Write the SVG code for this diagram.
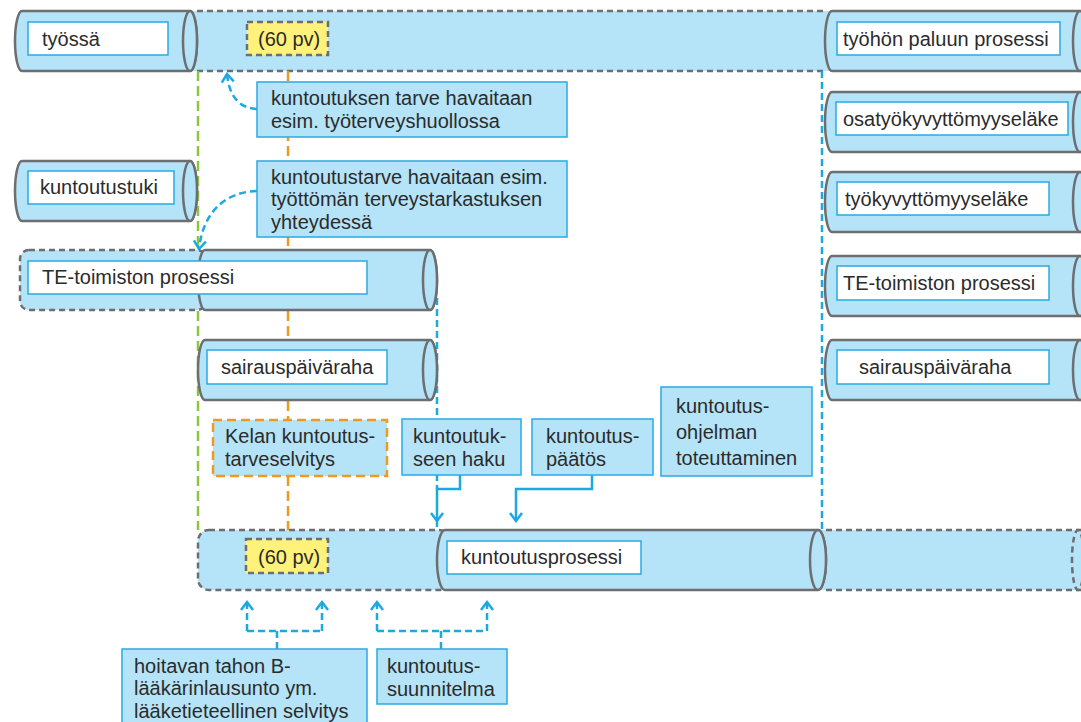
<svg xmlns="http://www.w3.org/2000/svg" width="1081" height="722" viewBox="0 0 1081 722">
<defs>
<style>
.cyl{fill:#b5e3f7;stroke:#6d6e71;stroke-width:2.5}
.dsh{fill:#b5e3f7;stroke:#6d6e71;stroke-width:2.5;stroke-dasharray:6 4}
.dl{fill:none;stroke:#6d6e71;stroke-width:2.5;stroke-dasharray:6 4}
.fillb{fill:#b5e3f7;stroke:none}
.inner{fill:#ffffff;stroke:#29abe2;stroke-width:1.5}
.box{fill:#b5e3f7;stroke:#29abe2;stroke-width:1.5}
.obox{fill:#b5e3f7;stroke:#ee9a22;stroke-width:2.5;stroke-dasharray:9 5}
.ybox{fill:#fff27a;stroke:#6d6e71;stroke-width:2.5;stroke-dasharray:6 4}
text{font-family:"Liberation Sans","Open Sans",sans-serif;font-size:20px;fill:#2b2b2b}
.bd{fill:none;stroke:#1ba9e1;stroke-width:2.5;stroke-dasharray:7 4}
.bs{fill:none;stroke:#1ba9e1;stroke-width:2.5}
.gd{fill:none;stroke:#8cc63f;stroke-width:2.5;stroke-dasharray:10 5}
.od{fill:none;stroke:#ee9a22;stroke-width:2.5;stroke-dasharray:10 5}
</style>
<marker id="ah" markerWidth="16" markerHeight="16" refX="12" refY="8" orient="auto" markerUnits="userSpaceOnUse">
<path d="M4,2 L12,8 L4,14" fill="none" stroke="#1ba9e1" stroke-width="2.5"/>
</marker>
</defs>

<!-- background bands -->
<g id="band-top">
<rect class="fillb" x="190" y="11" width="642" height="60"/>
<path class="dl" d="M197,11 H826 M197,71 H826"/>
</g>
<g id="band-bottom-right">
<rect class="fillb" x="818" y="530" width="263" height="60"/>
<path class="dl" d="M826,530 H1081 M826,590 H1081"/>
<ellipse cx="1078" cy="560" rx="6" ry="30" fill="none" stroke="#6d6e71" stroke-width="2.5" stroke-dasharray="6 4"/>
</g>

<g id="connectors">
<path class="gd" d="M198,71 V530"/>
<path class="od" d="M288,71 V530"/>
<path class="bd" d="M822,71 V530"/>
<path class="bd" d="M437,298 V489"/>
<path class="bd" d="M437,520 V530"/>
<path class="bs" d="M460,475 V489 H437 V521" marker-end="url(#ah)"/>
<path class="bs" d="M592,475 V489 H516 V521" marker-end="url(#ah)"/>
<path class="bd" d="M257,109 C238,108 229,95 227,74" marker-end="url(#ah)"/>
<path class="bd" d="M257,191 C224,192 203,213 199,249" marker-end="url(#ah)"/>
<path class="bd" d="M277,649 V631 M247,631 H322 M247,631 V602" marker-end="url(#ah)"/>
<path class="bd" d="M322,631 V602" marker-end="url(#ah)"/>
<path class="bd" d="M441,649 V631 M377,631 H487 M377,631 V602" marker-end="url(#ah)"/>
<path class="bd" d="M487,631 V602" marker-end="url(#ah)"/>
</g>

<g id="tyossa">
<path class="cyl" d="M22,11 H190 A7,30 0 0 1 190,71 H22 A7,30 0 0 1 22,11 Z"/>
<ellipse class="cyl" cx="190" cy="41" rx="7" ry="30"/>
<rect class="inner" x="28" y="22" width="140" height="33"/>
<text x="42" y="46">työssä</text>
</g>
<g id="pv-top">
<rect class="ybox" x="247" y="22" width="81" height="33"/>
<text x="258" y="46">(60 pv)</text>
</g>
<g id="kuntoutustuki">
<path class="cyl" d="M22,161 H190 A7,30 0 0 1 190,221 H22 A7,30 0 0 1 22,161 Z"/>
<ellipse class="cyl" cx="190" cy="191" rx="7" ry="30"/>
<rect class="inner" x="28" y="171" width="146" height="33"/>
<text x="40" y="194">kuntoutustuki</text>
</g>
<g id="te-left">
<rect class="dsh" x="20" y="250" width="186" height="60" rx="9"/>
<path class="cyl" d="M205,250 H430 A7,30 0 0 1 430,310 H205 A7,30 0 0 1 205,250 Z"/>
<ellipse class="cyl" cx="430" cy="280" rx="7" ry="30"/>
<rect class="inner" x="28" y="261" width="339" height="33"/>
<text x="42" y="284">TE-toimiston prosessi</text>
</g>
<g id="sairaus-left">
<path class="cyl" d="M205,340 H430 A7,30 0 0 1 430,400 H205 A7,30 0 0 1 205,340 Z"/>
<ellipse class="cyl" cx="430" cy="370" rx="7" ry="30"/>
<rect class="inner" x="207" y="350" width="180" height="34"/>
<text x="221" y="374">sairauspäiväraha</text>
</g>
<g id="tarve1">
<rect class="box" x="257" y="82" width="310" height="55"/>
<text x="271" y="105">kuntoutuksen tarve havaitaan</text>
<text x="271" y="127.5">esim. työterveyshuollossa</text>
</g>
<g id="tarve2">
<rect class="box" x="257" y="161" width="310" height="76"/>
<text x="271" y="183.5">kuntoutustarve havaitaan esim.</text>
<text x="271" y="206">työttömän terveystarkastuksen</text>
<text x="271" y="228.5">yhteydessä</text>
</g>
<g id="kelan">
<rect class="obox" x="213" y="420" width="174" height="56"/>
<text x="225" y="443">Kelan kuntoutus-</text>
<text x="225" y="465.5">tarveselvitys</text>
</g>
<g id="haku">
<rect class="box" x="402" y="419" width="119" height="56"/>
<text x="413" y="443">kuntoutuk-</text>
<text x="413" y="465.5">seen haku</text>
</g>
<g id="paatos">
<rect class="box" x="532" y="419" width="121" height="56"/>
<text x="546" y="443">kuntoutus-</text>
<text x="546" y="465.5">päätös</text>
</g>
<g id="ohjelma">
<rect class="box" x="661" y="387" width="151" height="89"/>
<text x="676" y="413">kuntoutus-</text>
<text x="676" y="439">ohjelman</text>
<text x="676" y="465">toteuttaminen</text>
</g>
<g id="bottom-left">
<rect class="dsh" x="198" y="530" width="252" height="60" rx="11"/>
<rect class="ybox" x="246" y="539" width="82" height="34"/>
<text x="258" y="564">(60 pv)</text>
</g>
<g id="kuntoutusprosessi">
<path class="cyl" d="M445,530 H818 A8,30 0 0 1 818,590 H445 A8,30 0 0 1 445,530 Z"/>
<ellipse class="cyl" cx="818" cy="560" rx="8" ry="30"/>
<rect class="inner" x="447" y="541" width="194" height="33"/>
<text x="461" y="564">kuntoutusprosessi</text>
</g>
<g id="r1">
<path class="cyl" d="M832,11 H1080 A7,30 0 0 1 1080,71 H832 A7,30 0 0 1 832,11 Z"/>
<ellipse class="cyl" cx="1080" cy="41" rx="7" ry="30"/>
<rect class="inner" x="837" y="22" width="223" height="33"/>
<text x="843" y="46">työhön paluun prosessi</text>
</g>
<g id="r2">
<path class="cyl" d="M832,92 H1080 A7,30 0 0 1 1080,152 H832 A7,30 0 0 1 832,92 Z"/>
<ellipse class="cyl" cx="1080" cy="122" rx="7" ry="30"/>
<rect class="inner" x="836" y="102" width="232" height="33"/>
<text x="843" y="126">osatyökyvyttömyyseläke</text>
</g>
<g id="r3">
<path class="cyl" d="M832,172 H1080 A7,30 0 0 1 1080,232 H832 A7,30 0 0 1 832,172 Z"/>
<ellipse class="cyl" cx="1080" cy="202" rx="7" ry="30"/>
<rect class="inner" x="837" y="182" width="212" height="33"/>
<text x="845" y="206">työkyvyttömyyseläke</text>
</g>
<g id="r4">
<path class="cyl" d="M832,256 H1080 A7,30 0 0 1 1080,316 H832 A7,30 0 0 1 832,256 Z"/>
<ellipse class="cyl" cx="1080" cy="286" rx="7" ry="30"/>
<rect class="inner" x="837" y="266" width="212" height="34"/>
<text x="843" y="290">TE-toimiston prosessi</text>
</g>
<g id="r5">
<path class="cyl" d="M832,340 H1080 A7,30 0 0 1 1080,400 H832 A7,30 0 0 1 832,340 Z"/>
<ellipse class="cyl" cx="1080" cy="370" rx="7" ry="30"/>
<rect class="inner" x="837" y="350" width="212" height="34"/>
<text x="859" y="374">sairauspäiväraha</text>
</g>
<g id="lausunto">
<rect class="box" x="122" y="649" width="245" height="80"/>
<text x="134" y="672.5">hoitavan tahon B-</text>
<text x="134" y="695">lääkärinlausunto ym.</text>
<text x="134" y="717.5">lääketieteellinen selvitys</text>
</g>
<g id="suunnitelma">
<rect class="box" x="377" y="649" width="130" height="55"/>
<text x="387" y="673">kuntoutus-</text>
<text x="387" y="695.5">suunnitelma</text>
</g>
</svg>
